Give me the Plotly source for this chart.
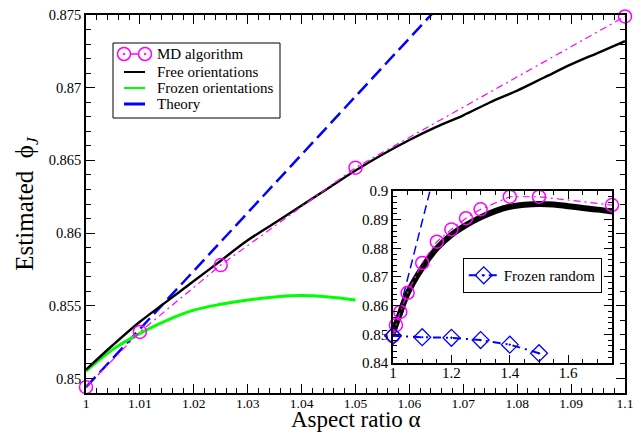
import plotly.graph_objects as go

# ---- data -------------------------------------------------------------
# MD algorithm estimates (aspect ratio, packing fraction)
md_alpha = [1.0, 1.01, 1.025, 1.05, 1.1, 1.15, 1.2, 1.25, 1.3, 1.4, 1.5, 1.75]
md_phi = [0.8494, 0.8532, 0.8578, 0.8645, 0.8749, 0.8823, 0.8866, 0.8905,
          0.8936, 0.8980, 0.8980, 0.8951]

# Free orientations, fine sweep over the small-alpha window
free_alpha = [1.000, 1.005, 1.010, 1.015, 1.020, 1.025, 1.030, 1.035, 1.040,
              1.045, 1.050, 1.055, 1.060, 1.065, 1.070, 1.075, 1.080, 1.085,
              1.090, 1.095, 1.100]
free_phi = [0.8506, 0.8523, 0.8539, 0.8553, 0.8567, 0.8581, 0.8595, 0.8607,
            0.8619, 0.8631, 0.8643, 0.8654, 0.8664, 0.8673, 0.8681, 0.8690,
            0.8698, 0.8707, 0.8716, 0.8724, 0.8732]

# Free orientations, wide sweep (inset)
free_wide_alpha = [1.00, 1.02, 1.05, 1.10, 1.15, 1.20, 1.25, 1.30, 1.35, 1.40,
                   1.45, 1.50, 1.55, 1.60, 1.65, 1.70, 1.75]
free_wide_phi = [0.8505, 0.8562, 0.8643, 0.8732, 0.8800, 0.8847, 0.8881,
                 0.8908, 0.8930, 0.8945, 0.8952, 0.8955, 0.8953, 0.8947,
                 0.8941, 0.8935, 0.8928]

# Frozen orientations
frozen_alpha = [1.000, 1.005, 1.010, 1.015, 1.020, 1.025, 1.030, 1.035,
                1.040, 1.045, 1.050]
frozen_phi = [0.8505, 0.8520, 0.8531, 0.8540, 0.8547, 0.8551, 0.8554, 0.8556,
              0.8557, 0.8556, 0.8554]

# Frozen random orientations (inset)
frozen_rand_alpha = [1.0, 1.1, 1.2, 1.3, 1.4, 1.5]
frozen_rand_phi = [0.8495, 0.8490, 0.8488, 0.8480, 0.8464, 0.8434]

# Linear theory near the sphere limit
theory_alpha = [1.0, 1.2]
theory_phi = [0.8494, 0.9294]

# Axis ticks
main_xticks = [1.0, 1.01, 1.02, 1.03, 1.04, 1.05, 1.06, 1.07, 1.08, 1.09, 1.1]
main_yticks = [0.85, 0.855, 0.86, 0.865, 0.87, 0.875]
inset_xticks = [1.0, 1.2, 1.4, 1.6]
inset_yticks = [0.84, 0.85, 0.86, 0.87, 0.88, 0.89, 0.9]

MAGENTA = "#FF00FF"
GREEN = "#00FF00"
BLUE = "#0000FF"
FONT = "Liberation Serif, Times New Roman, serif"

W, H = 641, 434
ML, MR, MT, MB = 86, 16, 15, 41
PW, PH = W - ML - MR, H - MT - MB


def paper_x(px):
    return (px - ML) / PW


def paper_y(py):
    return (H - MB - py) / PH


fig = go.Figure()

# ---- main panel -------------------------------------------------------
fig.add_trace(go.Scatter(
    x=theory_alpha, y=theory_phi, mode="lines", name="Theory",
    line=dict(color=BLUE, width=2.5, dash="14px,6px"),
    showlegend=False, xaxis="x", yaxis="y"))
fig.add_trace(go.Scatter(
    x=frozen_alpha, y=frozen_phi, mode="lines", name="Frozen orientations",
    line=dict(color=GREEN, width=3, shape="spline"),
    showlegend=False, xaxis="x", yaxis="y"))
fig.add_trace(go.Scatter(
    x=free_alpha, y=free_phi, mode="lines", name="Free orientations",
    line=dict(color="black", width=2.4, shape="spline"),
    showlegend=False, xaxis="x", yaxis="y"))
fig.add_trace(go.Scatter(
    x=md_alpha[:5], y=md_phi[:5], mode="lines+markers", name="MD algorithm",
    line=dict(color=MAGENTA, width=1.2, dash="7px,4px,2px,4px"),
    marker=dict(symbol="circle-open", size=13, color=MAGENTA,
                line=dict(width=1.5, color=MAGENTA)),
    showlegend=False, cliponaxis=False, xaxis="x", yaxis="y"))

# ---- inset ------------------------------------------------------------
fig.add_trace(go.Scatter(
    x=theory_alpha, y=theory_phi, mode="lines", showlegend=False,
    line=dict(color=BLUE, width=1.5, dash="9px,5px"),
    xaxis="x2", yaxis="y2"))
fig.add_trace(go.Scatter(
    x=free_wide_alpha, y=free_wide_phi, mode="lines", showlegend=False,
    line=dict(color="black", width=6, shape="spline"),
    xaxis="x2", yaxis="y2"))
fig.add_trace(go.Scatter(
    x=md_alpha, y=md_phi, mode="lines+markers", showlegend=False,
    line=dict(color=MAGENTA, width=1.2, dash="7px,4px,2px,4px"),
    marker=dict(symbol="circle-open", size=13, color=MAGENTA,
                line=dict(width=1.5, color=MAGENTA)),
    cliponaxis=False, xaxis="x2", yaxis="y2"))
fig.add_trace(go.Scatter(
    x=frozen_rand_alpha, y=frozen_rand_phi, mode="lines+markers",
    name="Frozen random", legend="legend2", showlegend=True,
    line=dict(color=BLUE, width=2, dash="8px,5px,2px,5px"),
    marker=dict(symbol="diamond-open-dot", size=13, color=BLUE,
                line=dict(width=1.3, color=BLUE)),
    cliponaxis=False, xaxis="x2", yaxis="y2"))

# ---- key for the main panel (compact rows) ----------------------------
shapes = [dict(type="rect", xref="paper", yref="paper", layer="above",
               x0=paper_x(113), x1=paper_x(280), y0=paper_y(118),
               y1=paper_y(43), fillcolor="white",
               line=dict(color="black", width=1))]
annotations = []
key_rows = [
    ("MD algorithm", 54, MAGENTA, 1.5, True),
    ("Free orientations", 72, "black", 2, False),
    ("Frozen orientations", 88, GREEN, 2, False),
    ("Theory", 104, BLUE, 3, False),
]
for label, yrow, color, width, with_markers in key_rows:
    shapes.append(dict(type="line", xref="paper", yref="paper", layer="above",
                       x0=paper_x(124), x1=paper_x(145),
                       y0=paper_y(yrow), y1=paper_y(yrow),
                       line=dict(color=color, width=width)))
    if with_markers:
        for xc in (124, 145):
            shapes.append(dict(
                type="circle", xref="paper", yref="paper", layer="above",
                xsizemode="pixel", ysizemode="pixel",
                xanchor=paper_x(xc), yanchor=paper_y(yrow),
                x0=-6.5, x1=6.5, y0=-6.5, y1=6.5, fillcolor="white",
                line=dict(color=color, width=1.5)))
            shapes.append(dict(
                type="circle", xref="paper", yref="paper", layer="above",
                xsizemode="pixel", ysizemode="pixel",
                xanchor=paper_x(xc), yanchor=paper_y(yrow),
                x0=-1, x1=1, y0=-1, y1=1, fillcolor=color,
                line=dict(color=color, width=0.5)))
    annotations.append(dict(
        text=label, xref="paper", yref="paper", x=paper_x(155),
        y=paper_y(yrow), xanchor="left", yanchor="middle", showarrow=False,
        font=dict(size=15, family=FONT, color="black")))

# x-axis title, placed just under the tick labels
annotations.append(dict(
    text="Aspect ratio α", xref="paper", yref="paper", x=0.5,
    y=paper_y(419), xanchor="center", yanchor="middle", showarrow=False,
    font=dict(size=23, family=FONT, color="black")))

axis_common = dict(
    showline=True, linecolor="black", linewidth=1.6, mirror="allticks",
    ticks="inside", tickcolor="black", tickwidth=1.3, showgrid=False,
    zeroline=False, automargin=False,
)

fig.update_layout(
    width=W, height=H,
    margin=dict(l=ML, r=MR, t=MT, b=MB, autoexpand=False),
    paper_bgcolor="white", plot_bgcolor="white",
    font=dict(family=FONT, color="black"),
    showlegend=True,
    shapes=shapes, annotations=annotations,
    xaxis=dict(
        **axis_common, range=[1.0, 1.1], tickvals=main_xticks,
        ticktext=[f"{v:g}" for v in main_xticks], ticklen=9,
        tickfont=dict(size=13.5, family=FONT), ticklabelstandoff=-3,
        minor=dict(dtick=0.002, tick0=1.0, ticklen=5, ticks="inside",
                   tickcolor="black", tickwidth=1),
        domain=[0, 1], anchor="y",
    ),
    yaxis=dict(
        **axis_common, range=[0.849, 0.875], tickvals=main_yticks,
        ticktext=[f"{v:g}" for v in main_yticks], ticklen=9,
        tickfont=dict(size=14.5, family=FONT),
        minor=dict(dtick=0.001, tick0=0.85, ticklen=5, ticks="inside",
                   tickcolor="black", tickwidth=1),
        title=dict(text="Estimated  ϕ<sub><i>J</i></sub>",
                   font=dict(size=25, family=FONT), standoff=8),
        domain=[0, 1], anchor="x",
    ),
    xaxis2=dict(
        **axis_common, range=[1.0, 1.75], tickvals=inset_xticks,
        ticktext=[f"{v:g}" for v in inset_xticks], ticklen=8,
        tickfont=dict(size=15, family=FONT), ticklabelstandoff=-5,
        minor=dict(dtick=0.05, tick0=1.0, ticklen=4, ticks="inside",
                   tickcolor="black", tickwidth=1),
        domain=[0.5696, 0.9759], anchor="y2",
    ),
    yaxis2=dict(
        **axis_common, range=[0.84, 0.9], tickvals=inset_yticks,
        ticktext=[f"{v:g}" for v in inset_yticks], ticklen=8,
        tickfont=dict(size=15, family=FONT),
        minor=dict(dtick=0.002, tick0=0.84, ticklen=4, ticks="inside",
                   tickcolor="black", tickwidth=1),
        domain=[0.0794, 0.5344], anchor="x2",
    ),
    legend2=dict(
        x=0.699, y=0.357, xanchor="left", yanchor="top",
        bgcolor="white", bordercolor="black", borderwidth=1,
        font=dict(size=15, family=FONT), itemwidth=30,
    ),
)

fig.write_html("out.html")
